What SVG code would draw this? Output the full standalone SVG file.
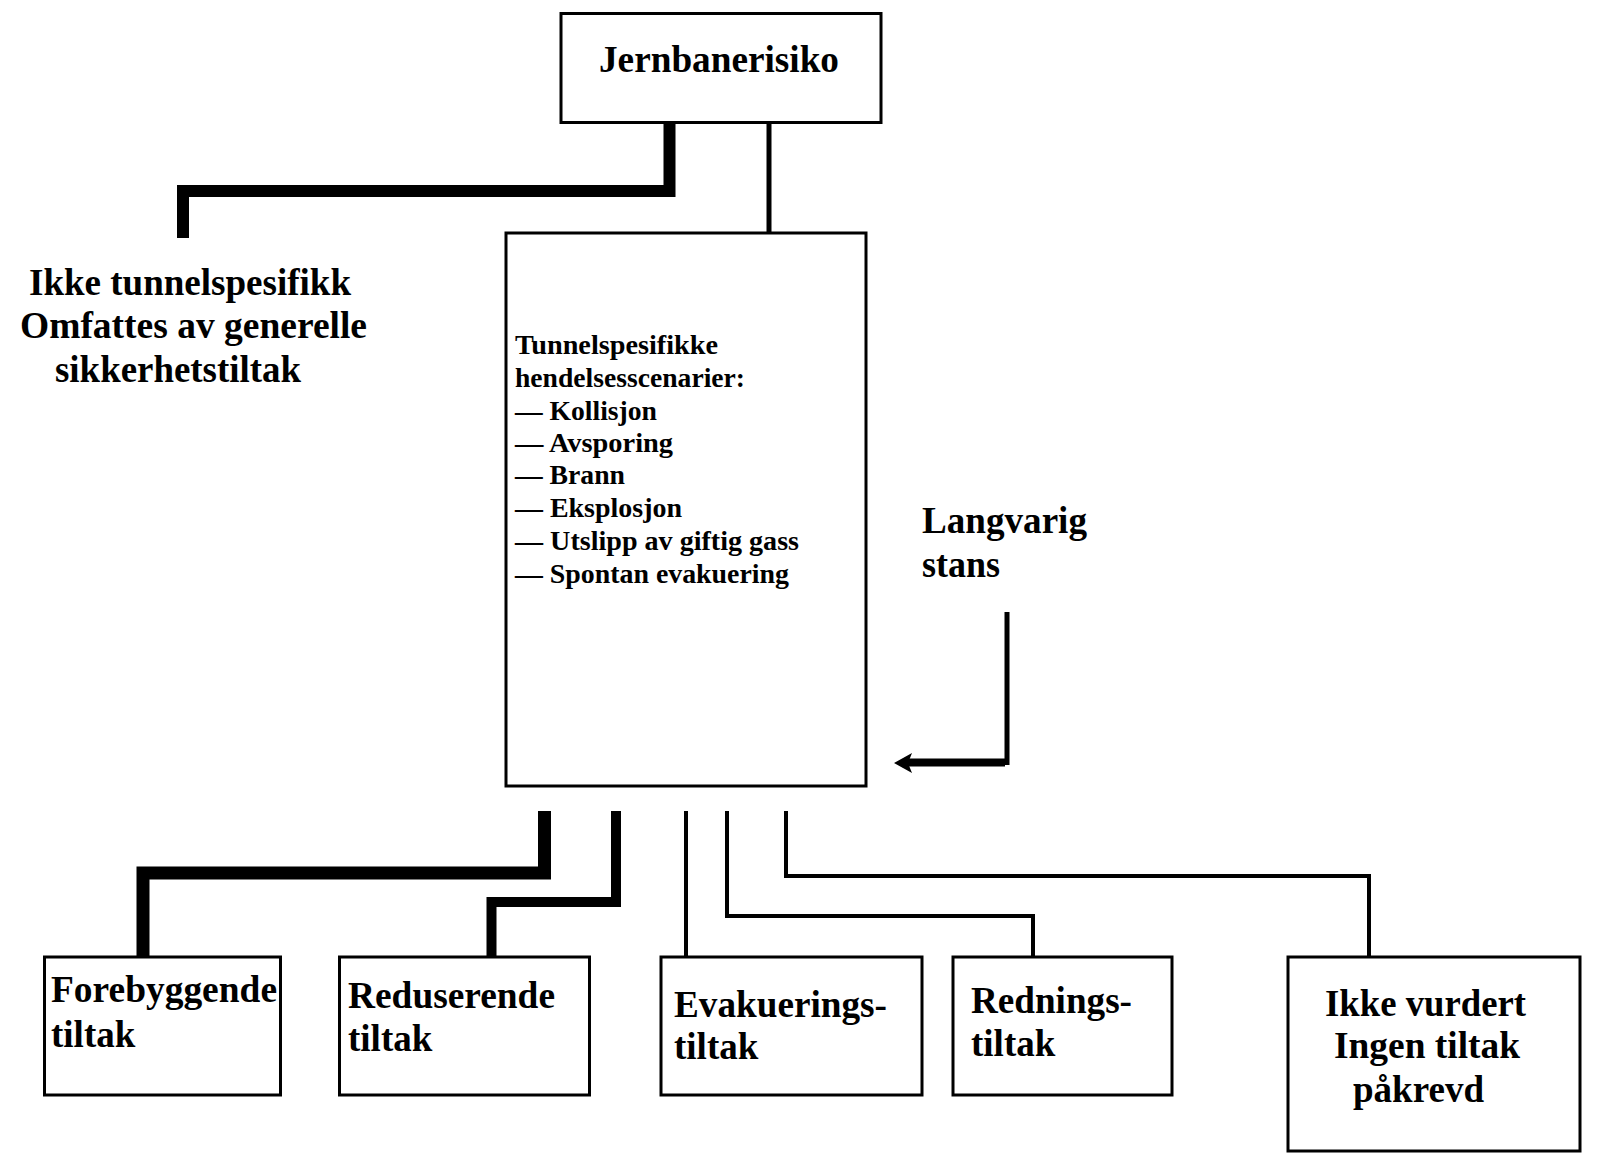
<svg xmlns="http://www.w3.org/2000/svg" width="1600" height="1174" viewBox="0 0 1600 1174">
<style>
.box{fill:#fff;stroke:#000;stroke-width:3}
.t{font-family:"Liberation Serif","Times New Roman",serif;font-weight:bold;fill:#000}
.big{font-size:37px}
.mid{font-size:27px}
.c{fill:none;stroke:#000;stroke-linejoin:miter;stroke-linecap:butt}
.head{fill:#000;stroke:none}
</style>
<rect width="1600" height="1174" fill="#fff"/>
<g id="connectors">
<path class="c" d="M669.5 124 V191 H183 V238" stroke-width="12"/>
<path class="c" d="M769 124 V232" stroke-width="5"/>
<path class="c" d="M1007 612 V762.5 H912" stroke-width="5"/>
<path class="c" d="M1005 762.5 H906" stroke-width="8"/>
<polygon class="head" points="894,763 912,753 908,763 912,773"/>
<path class="c" d="M544.5 811 V873 H143 V956" stroke-width="13"/>
<path class="c" d="M616 811 V902 H491.5 V956" stroke-width="10"/>
<path class="c" d="M686 811 V956" stroke-width="4"/>
<path class="c" d="M727 811 V916 H1033 V956" stroke-width="4"/>
<path class="c" d="M786 811 V876 H1369 V956" stroke-width="4"/>
</g>
<g id="jernbanerisiko">
<rect class="box" x="561" y="13.5" width="320" height="109"/>
<text class="t big" x="599" y="72" textLength="240" lengthAdjust="spacingAndGlyphs">Jernbanerisiko</text>
</g>
<g id="ikke-tunnelspesifikk">
<text class="t big" x="29" y="295" textLength="322" lengthAdjust="spacingAndGlyphs">Ikke tunnelspesifikk</text>
<text class="t big" x="20" y="338" textLength="347" lengthAdjust="spacingAndGlyphs">Omfattes av generelle</text>
<text class="t big" x="55" y="382" textLength="246" lengthAdjust="spacingAndGlyphs">sikkerhetstiltak</text>
</g>
<g id="tunnelspesifikke">
<rect class="box" x="506" y="233" width="360" height="553"/>
<text class="t mid" x="515" y="354" textLength="203" lengthAdjust="spacingAndGlyphs">Tunnelspesifikke</text>
<text class="t mid" x="515" y="387" textLength="230" lengthAdjust="spacingAndGlyphs">hendelsesscenarier:</text>
<text class="t mid" x="515" y="420" textLength="142" lengthAdjust="spacingAndGlyphs">— Kollisjon</text>
<text class="t mid" x="515" y="452" textLength="158" lengthAdjust="spacingAndGlyphs">— Avsporing</text>
<text class="t mid" x="515" y="484" textLength="110" lengthAdjust="spacingAndGlyphs">— Brann</text>
<text class="t mid" x="515" y="517" textLength="167" lengthAdjust="spacingAndGlyphs">— Eksplosjon</text>
<text class="t mid" x="515" y="550" textLength="284" lengthAdjust="spacingAndGlyphs">— Utslipp av giftig gass</text>
<text class="t mid" x="515" y="583" textLength="274" lengthAdjust="spacingAndGlyphs">— Spontan evakuering</text>
</g>
<g id="langvarig-stans">
<text class="t big" x="922" y="533" textLength="165" lengthAdjust="spacingAndGlyphs">Langvarig</text>
<text class="t big" x="922" y="577" textLength="78" lengthAdjust="spacingAndGlyphs">stans</text>
</g>
<g id="forebyggende">
<rect class="box" x="44.5" y="957" width="236" height="138"/>
<text class="t big" x="51" y="1002" textLength="226" lengthAdjust="spacingAndGlyphs">Forebyggende</text>
<text class="t big" x="51" y="1047">tiltak</text>
</g>
<g id="reduserende">
<rect class="box" x="339.5" y="957" width="250" height="138"/>
<text class="t big" x="348" y="1008" textLength="207" lengthAdjust="spacingAndGlyphs">Reduserende</text>
<text class="t big" x="348" y="1051">tiltak</text>
</g>
<g id="evakuering">
<rect class="box" x="661" y="957" width="261" height="138"/>
<text class="t big" x="674" y="1017" textLength="213" lengthAdjust="spacingAndGlyphs">Evakuerings-</text>
<text class="t big" x="674" y="1059">tiltak</text>
</g>
<g id="rednings">
<rect class="box" x="953" y="957" width="219" height="138"/>
<text class="t big" x="971" y="1013" textLength="161" lengthAdjust="spacingAndGlyphs">Rednings-</text>
<text class="t big" x="971" y="1056">tiltak</text>
</g>
<g id="ikke-vurdert">
<rect class="box" x="1288" y="957" width="292" height="194"/>
<text class="t big" x="1325" y="1016" textLength="201" lengthAdjust="spacingAndGlyphs">Ikke vurdert</text>
<text class="t big" x="1334" y="1058" textLength="186" lengthAdjust="spacingAndGlyphs">Ingen tiltak</text>
<text class="t big" x="1353" y="1102" textLength="131" lengthAdjust="spacingAndGlyphs">påkrevd</text>
</g>
</svg>
